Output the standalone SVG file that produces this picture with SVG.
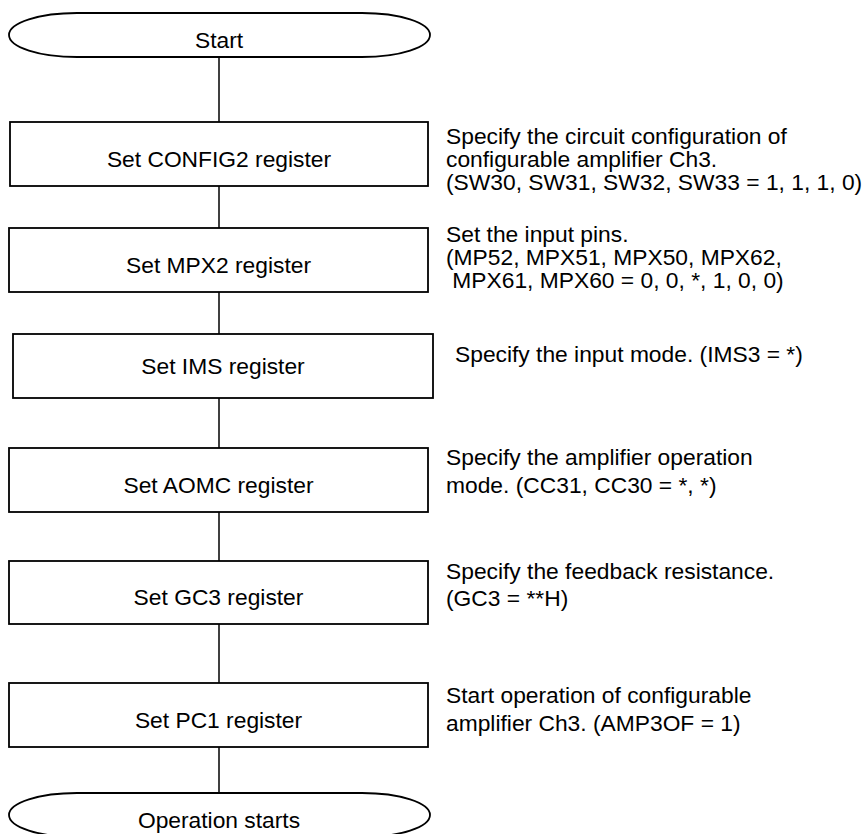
<svg xmlns="http://www.w3.org/2000/svg" width="866" height="834" viewBox="0 0 866 834">
  <style>
    text { font-family: "Liberation Sans", Arial, sans-serif; font-size: 22.8px; fill: #000; }
    .c { text-anchor: middle; }
    .box { fill: #fff; stroke: #000; stroke-width: 1.8; }
    .term { fill: #fff; stroke: #000; stroke-width: 1.8; }
    .link { stroke: #000; stroke-width: 1.5; fill: none; }
  </style>

  <!-- vertical flow lines -->
  <g id="connectors">
    <line class="link" x1="219" y1="57" x2="219" y2="122"/>
    <line class="link" x1="219" y1="186" x2="219" y2="228"/>
    <line class="link" x1="219" y1="292" x2="219" y2="334"/>
    <line class="link" x1="219" y1="398" x2="219" y2="448"/>
    <line class="link" x1="219" y1="512" x2="219" y2="561"/>
    <line class="link" x1="219" y1="624" x2="219" y2="683"/>
    <line class="link" x1="219" y1="747" x2="219" y2="793"/>
  </g>

  <g id="start">
    <path class="term" d="M77,13 H362 A68,22 0 0 1 362,57 H77 A68,22 0 0 1 77,13 Z"/>
    <text class="c" x="219" y="48">Start</text>
  </g>

  <g id="config2">
    <rect class="box" x="10" y="122" width="418" height="64"/>
    <text class="c" x="219" y="166.5">Set CONFIG2 register</text>
    <text x="446" y="143.5">Specify the circuit configuration of</text>
    <text x="446" y="166.5">configurable amplifier Ch3.</text>
    <text x="446" y="189.5">(SW30, SW31, SW32, SW33 = 1, 1, 1, 0)</text>
  </g>

  <g id="mpx2">
    <rect class="box" x="9" y="228" width="419" height="64"/>
    <text class="c" x="218.5" y="273">Set MPX2 register</text>
    <text x="446" y="242">Set the input pins.</text>
    <text x="446" y="265">(MP52, MPX51, MPX50, MPX62,</text>
    <text x="446" y="288" xml:space="preserve"> MPX61, MPX60 = 0, 0, *, 1, 0, 0)</text>
  </g>

  <g id="ims">
    <rect class="box" x="13" y="334" width="420" height="64"/>
    <text class="c" x="223" y="374">Set IMS register</text>
    <text x="455" y="361.5">Specify the input mode. (IMS3 = *)</text>
  </g>

  <g id="aomc">
    <rect class="box" x="9" y="448" width="419" height="64"/>
    <text class="c" x="218.5" y="493">Set AOMC register</text>
    <text x="446" y="465">Specify the amplifier operation</text>
    <text x="446" y="493">mode. (CC31, CC30 = *, *)</text>
  </g>

  <g id="gc3">
    <rect class="box" x="9" y="561" width="419" height="63"/>
    <text class="c" x="218.5" y="605">Set GC3 register</text>
    <text x="446" y="579">Specify the feedback resistance.</text>
    <text x="446" y="606">(GC3 = **H)</text>
  </g>

  <g id="pc1">
    <rect class="box" x="9" y="683" width="419" height="64"/>
    <text class="c" x="218.5" y="728">Set PC1 register</text>
    <text x="446" y="703">Start operation of configurable</text>
    <text x="446" y="731">amplifier Ch3. (AMP3OF = 1)</text>
  </g>

  <g id="operation-starts">
    <path class="term" d="M77,793 H362 A68,22 0 0 1 362,837 H77 A68,22 0 0 1 77,793 Z"/>
    <text class="c" x="219" y="828">Operation starts</text>
  </g>
</svg>
